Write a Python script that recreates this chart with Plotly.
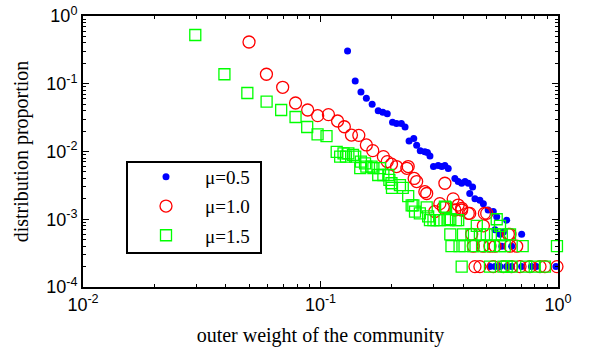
import plotly.graph_objects as go

# ---------------- data ----------------
blue_x = [0.130, 0.140, 0.148, 0.156, 0.165, 0.175, 0.183, 0.191, 0.201, 0.209,
          0.219, 0.227, 0.236, 0.247, 0.254, 0.263, 0.275, 0.282, 0.289, 0.299,
          0.313, 0.324, 0.334, 0.345, 0.368, 0.380, 0.393, 0.406, 0.419, 0.437,
          0.425, 0.447, 0.469, 0.485, 0.508, 0.534, 0.552, 0.608, 0.543, 0.589,
          0.703, 0.570, 0.580, 0.638, 0.517, 0.543, 0.570, 0.608, 0.638, 0.703,
          0.773, 0.810, 0.980]
blue_y = [0.304, 0.110, 0.0755, 0.061, 0.050, 0.040, 0.038, 0.036, 0.027, 0.026,
          0.026, 0.023, 0.0143, 0.0155, 0.0124, 0.0103, 0.0099, 0.0097, 0.0086, 0.0060,
          0.0062, 0.0060, 0.0062, 0.0056, 0.0040, 0.0036, 0.0034, 0.0036, 0.0034, 0.0030,
          0.0024, 0.0020, 0.0019, 0.0017, 0.00137, 0.0013, 0.00109, 0.00097, 0.0007, 0.00065,
          0.0006, 0.0006, 0.0004, 0.0004, 0.0002, 0.0002, 0.0002, 0.0002, 0.0002, 0.0002,
          0.0002, 0.0002, 0.0002]

red_x = [0.050, 0.0592, 0.0693, 0.0785, 0.0883, 0.0973, 0.108, 0.118, 0.126, 0.135,
         0.145, 0.156, 0.166, 0.184, 0.191, 0.199, 0.209, 0.231, 0.234, 0.248,
         0.254, 0.275, 0.280, 0.303, 0.318, 0.329, 0.334, 0.362, 0.368, 0.380,
         0.393, 0.393, 0.419, 0.425, 0.490, 0.501, 0.485, 0.433, 0.618, 0.628,
         0.440, 0.484, 0.517, 0.543, 0.628, 0.670,
         0.447, 0.469, 0.534, 0.589, 0.638, 0.692, 0.762, 0.840, 0.881, 0.990]
red_y = [0.413, 0.138, 0.0886, 0.052, 0.041, 0.0338, 0.035, 0.0282, 0.0232, 0.0175,
         0.0173, 0.0125, 0.0103, 0.0084, 0.0071, 0.0065, 0.0060, 0.00565, 0.0060, 0.0040,
         0.0036, 0.00255, 0.0024, 0.0013, 0.0017, 0.0015, 0.0034, 0.0020, 0.00137, 0.00162,
         0.00137, 0.00145, 0.00122, 0.00122, 0.00122, 0.00122, 0.0008, 0.0006, 0.0006, 0.0006,
         0.0004, 0.0004, 0.0004, 0.0004, 0.0004, 0.0004,
         0.0002, 0.0002, 0.0002, 0.0002, 0.0002, 0.0002, 0.0002, 0.0002, 0.0002, 0.0002]

green_x = [0.0297, 0.0394, 0.0492, 0.0593, 0.0683, 0.0785, 0.0879, 0.0972, 0.106, 0.117,
           0.121, 0.125, 0.128, 0.131, 0.137, 0.140, 0.148, 0.147, 0.156, 0.154,
           0.164, 0.167, 0.175, 0.178, 0.184, 0.193, 0.199, 0.195, 0.200, 0.216,
           0.222, 0.234, 0.242, 0.246, 0.250, 0.262, 0.280, 0.284, 0.289, 0.299,
           0.308, 0.318, 0.334, 0.338, 0.346, 0.352, 0.372, 0.380, 0.455, 0.552, 0.570,
           0.352, 0.398, 0.432, 0.469, 0.501, 0.543, 0.580, 0.628,
           0.356, 0.385, 0.404, 0.440, 0.479, 0.517, 0.570, 0.597, 0.710, 0.990,
           0.393, 0.517, 0.589, 0.608, 0.638, 0.735, 0.798, 0.881]
green_y = [0.524, 0.138, 0.073, 0.0543, 0.041, 0.0323, 0.023, 0.0179, 0.0169, 0.0099,
           0.0084, 0.0094, 0.0084, 0.0094, 0.0089, 0.0084, 0.0071, 0.0057, 0.0060, 0.0067,
           0.0060, 0.0057, 0.0045, 0.0057, 0.0045, 0.0045, 0.0034, 0.0038, 0.0029, 0.0032,
           0.0029, 0.0022, 0.0016, 0.0016, 0.0013, 0.00122, 0.0015, 0.0011, 0.00097, 0.00097,
           0.00097, 0.00097, 0.00153, 0.0015, 0.00097, 0.0010, 0.00097, 0.00097, 0.0008, 0.0010, 0.0008,
           0.0006, 0.0006, 0.0006, 0.0006, 0.0006, 0.0006, 0.0006, 0.0006,
           0.0004, 0.0004, 0.0004, 0.0004, 0.0004, 0.0004, 0.0004, 0.0004, 0.0004, 0.0004,
           0.0002, 0.0002, 0.0002, 0.0002, 0.0002, 0.0002, 0.0002, 0.0002]

series_names = ["μ=0.5", "μ=1.0", "μ=1.5"]
x_tickvals = [0.01, 0.1, 1]
x_ticktext = ["10<sup>-2</sup>", "10<sup>-1</sup>", "10<sup>0</sup>"]
y_tickvals = [1e-4, 1e-3, 1e-2, 1e-1, 1]
y_ticktext = ["10<sup>-4</sup>", "10<sup>-3</sup>", "10<sup>-2</sup>", "10<sup>-1</sup>", "10<sup>0</sup>"]
x_title = "outer weight of the community"
y_title = "distribution proportion"

x_minor = [m * 10 ** e for e in (-2, -1) for m in range(2, 10)]
y_minor = [m * 10 ** e for e in (-4, -3, -2, -1) for m in range(2, 10)]

NB = "\u00a0"

fig = go.Figure()
fig.add_trace(go.Scatter(
    x=blue_x, y=blue_y, mode="markers", name=NB * 4 + series_names[0], legendgroup="a",
    cliponaxis=False,
    marker=dict(symbol="circle", size=7, color="#0000ff", line=dict(width=0))))
fig.add_trace(go.Scatter(
    x=red_x, y=red_y, mode="markers", name=NB * 4 + series_names[1], legendgroup="b",
    cliponaxis=False,
    marker=dict(symbol="circle-open", size=12, color="#ff0000", line=dict(width=1.3))))
fig.add_trace(go.Scatter(
    x=green_x, y=green_y, mode="markers", name=NB * 4 + series_names[2], legendgroup="c",
    cliponaxis=False,
    marker=dict(symbol="square-open", size=11, color="#00ff00", line=dict(width=1.3))))

axis_common = dict(
    type="log", showline=True, linecolor="black", linewidth=2, mirror="allticks",
    ticks="inside", ticklen=6, tickwidth=1.2, tickcolor="black", showgrid=False,
    zeroline=False, automargin=False,
    tickfont=dict(family="Liberation Sans, Arial", size=18, color="black"),
)

fig.update_xaxes(
    **axis_common, range=[-2, 0], tickmode="array", tickvals=x_tickvals, ticktext=x_ticktext,
    minor=dict(tickmode="array", tickvals=x_minor, ticks="inside", ticklen=3,
               tickcolor="black", tickwidth=1, showgrid=False),
    title=dict(text=x_title, font=dict(family="Liberation Serif, Times New Roman", size=20, color="black"),
               standoff=14),
)
fig.update_yaxes(
    **axis_common, range=[-4, 0], tickmode="array", tickvals=y_tickvals, ticktext=y_ticktext,
    minor=dict(tickmode="array", tickvals=y_minor, ticks="inside", ticklen=3,
               tickcolor="black", tickwidth=1, showgrid=False),
    title=dict(text=y_title, font=dict(family="Liberation Serif, Times New Roman", size=20, color="black"),
               standoff=12),
)

# legend frame
fig.add_shape(type="rect", xref="paper", yref="paper",
              x0=(127 - 83) / 475, x1=(261 - 83) / 475,
              y0=(287 - 253) / 271, y1=(287 - 162) / 271,
              line=dict(color="black", width=2), fillcolor="white", layer="below")

fig.update_layout(
    width=590, height=352,
    margin=dict(l=83, r=32, t=16, b=65),
    plot_bgcolor="white", paper_bgcolor="white",
    showlegend=True,
    legend=dict(x=(146 - 83) / 475, y=(287 - 158) / 271, xanchor="left", yanchor="top",
                bgcolor="rgba(0,0,0,0)", borderwidth=0, tracegroupgap=1.5,
                traceorder="grouped",
                font=dict(family="Liberation Serif, Times New Roman", size=19, color="black")),
)

fig.write_html("out.html")
